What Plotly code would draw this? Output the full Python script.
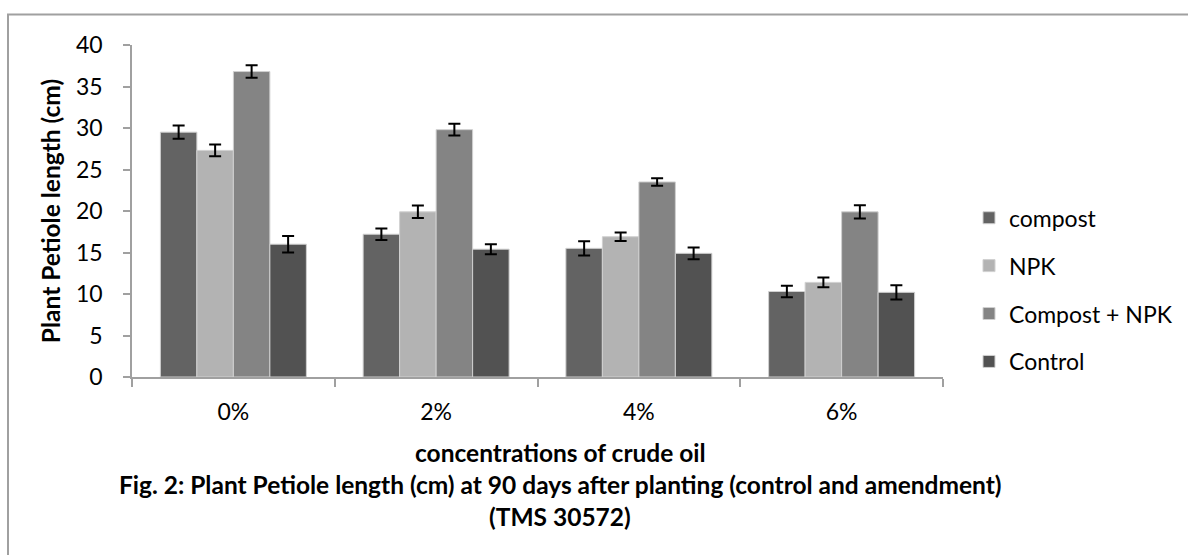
import plotly.graph_objects as go

categories = ["0%", "2%", "4%", "6%"]
series_names = ["compost", "NPK", "Compost + NPK", "Control"]
compost = [29.5, 17.2, 15.5, 10.3]
npk = [27.3, 19.9, 16.9, 11.4]
compost_npk = [36.8, 29.8, 23.5, 19.9]
control = [16.0, 15.4, 14.9, 10.2]
compost_err = [0.8, 0.7, 0.85, 0.7]
npk_err = [0.7, 0.75, 0.5, 0.6]
compost_npk_err = [0.75, 0.7, 0.45, 0.8]
control_err = [1.0, 0.6, 0.7, 0.85]
colors = ["#636363", "#b3b3b3", "#848484", "#525252"]
y_ticks = [0, 5, 10, 15, 20, 25, 30, 35, 40]

W, H = 1188, 555
L, R, T, B = 132, 943, 44.5, 377
FONT = "Lato"
FS = 23
FSB = 24.5

fig = go.Figure()
for name, vals, errs, col in zip(series_names,
                                 [compost, npk, compost_npk, control],
                                 [compost_err, npk_err, compost_npk_err, control_err],
                                 colors):
    fig.add_trace(go.Bar(
        name=name, x=categories, y=vals, legendgroup=name,
        marker=dict(color=col, line=dict(color="#d0d0d0", width=1)),
        error_y=dict(type="data", array=errs, visible=True,
                     color="black", thickness=2, width=6),
    ))

def px_x(p):
    return (p - L) / (R - L)

def px_y(p):
    return (B - p) / (B - T)

fig.update_layout(
    width=W, height=H,
    margin=dict(l=L, r=W - R, t=T, b=H - B, pad=0, autoexpand=False),
    paper_bgcolor="white", plot_bgcolor="white",
    font=dict(family=FONT, size=FS, color="black"),
    barmode="group", bargap=0.28, bargroupgap=0,
    showlegend=True,
    legend=dict(x=px_x(969), y=px_y(196), xanchor="left", yanchor="top",
                font=dict(family=FONT, size=FS), tracegroupgap=15,
                itemwidth=30, bgcolor="rgba(0,0,0,0)"),
    xaxis=dict(type="category", showline=True, linecolor="#a0a0a0", linewidth=1.5,
               ticks="outside", tickson="boundaries", ticklen=8, tickcolor="#a0a0a0",
               tickwidth=1.5, ticklabelstandoff=14, showgrid=False,
               tickfont=dict(family=FONT, size=FS)),
    yaxis=dict(range=[0, 40], tickvals=y_ticks, showline=True, linecolor="#a0a0a0",
               linewidth=1.5, ticks="outside", ticklen=7, tickcolor="#a0a0a0",
               tickwidth=1.5, ticklabelstandoff=16, showgrid=False, zeroline=False,
               tickfont=dict(family=FONT, size=FS),
               title=dict(text="<b>Plant Petiole length (cm)</b>", standoff=8,
                          font=dict(family=FONT, size=FSB))),
    shapes=[dict(type="rect", xref="paper", yref="paper",
                 x0=px_x(8), x1=px_x(1200), y0=px_y(570), y1=px_y(14),
                 line=dict(color="#a0a0a0", width=2), fillcolor="rgba(0,0,0,0)",
                 layer="below")],
    annotations=[
        dict(text="<b>concentrations of crude oil</b>", xref="paper", yref="paper",
             x=px_x(560), y=px_y(453), showarrow=False, xanchor="center", yanchor="middle",
             font=dict(family=FONT, size=FSB)),
        dict(text="<b>Fig. 2: Plant Petiole length (cm) at 90 days after planting (control and amendment)</b>",
             xref="paper", yref="paper",
             x=px_x(560), y=px_y(485), showarrow=False, xanchor="center", yanchor="middle",
             font=dict(family=FONT, size=FSB)),
        dict(text="<b>(TMS 30572)</b>", xref="paper", yref="paper",
             x=px_x(560), y=px_y(517), showarrow=False, xanchor="center", yanchor="middle",
             font=dict(family=FONT, size=FSB)),
    ],
)

fig.write_html("out.html")
